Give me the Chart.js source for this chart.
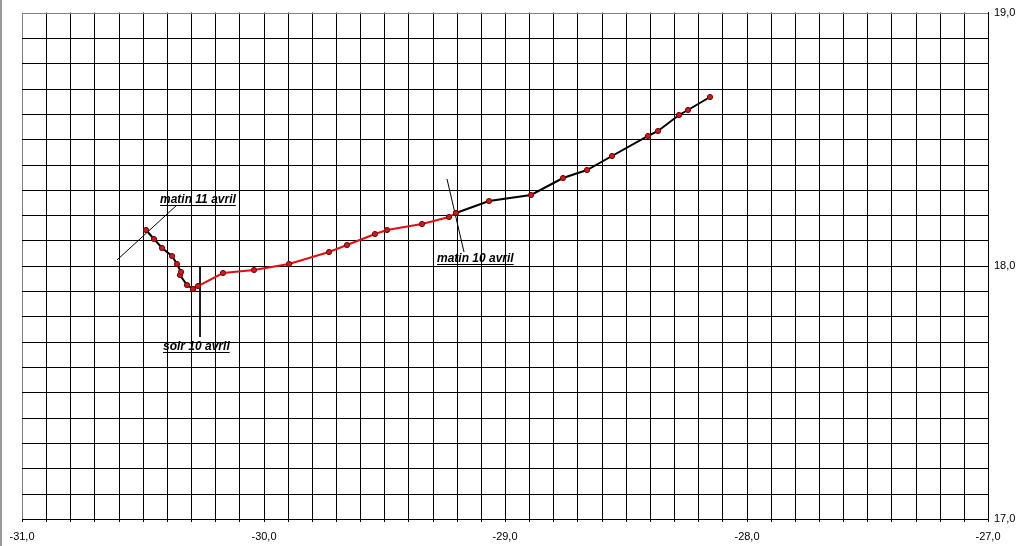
<!DOCTYPE html>
<html>
<head>
<meta charset="utf-8">
<script src="https://cdn.jsdelivr.net/npm/chart.js@4"></script>
<style>
  body { margin: 0; background: #fff; }
  #wrap { position: relative; width: 1024px; height: 546px; }
  #edge { position: absolute; left: 0; top: 0; width: 2px; height: 546px; background: #9a9a9a; }
</style>
</head>
<body>
<div id="wrap">
  <canvas id="chart" width="1024" height="546"></canvas>
  <div id="edge"></div>
</div>
<script>
// trajet, segment du matin 10 avril (noir, à droite)
const blackRightX = [-28.151, -28.243, -28.278, -28.368, -28.407, -28.559, -28.662, -28.761, -28.892, -29.068, -29.203];
const blackRightY = [18.666, 18.617, 18.595, 18.532, 18.512, 18.432, 18.377, 18.347, 18.280, 18.254, 18.208];

// segment rouge (journée du 10 avril)
const redX = [-29.203, -29.232, -29.345, -29.490, -29.540, -29.655, -29.729, -29.893, -30.039, -30.169, -30.271, -30.290];
const redY = [18.208, 18.193, 18.166, 18.140, 18.124, 18.082, 18.053, 18.007, 17.982, 17.972, 17.919, 17.907];

// segment noir de la nuit (vers matin 11 avril)
const blackLeftX = [-30.290, -30.317, -30.346, -30.342, -30.358, -30.379, -30.422, -30.453, -30.487];
const blackLeftY = [17.907, 17.925, 17.963, 17.976, 18.006, 18.039, 18.071, 18.106, 18.140];

// traits de repère des annotations
const leaderMatin11X = [-30.607, -30.358];
const leaderMatin11Y = [18.022, 18.239];
const leaderSoir10X = [-30.264, -30.264];
const leaderSoir10Y = [17.998, 17.718];
const leaderMatin10X = [-29.240, -29.170];
const leaderMatin10Y = [18.341, 18.053];

// annotations
const noteTexts = ['matin 11 avril', 'soir 10 avril', 'matin 10 avril'];
const noteX = [-30.429, -30.416, -29.282];
const noteY = [18.258, 17.678, 18.026];

const xMin = -31, xMax = -27, yMin = 17, yMax = 19;

function pts(xs, ys) {
    return xs.map((x, i) => ({ x: x, y: ys[i] }));
}

function fmt(v) {
    if (Math.abs(v - Math.round(v)) > 1e-6) return '';
    return v.toFixed(1).replace('.', ',');
}

const pointStyle = {
    pointRadius: 2.6,
    pointBackgroundColor: '#d01a1a',
    pointBorderColor: '#7a0000',
    pointBorderWidth: 1
};

const leaderStyle = {
    showLine: true,
    borderColor: '#000',
    borderWidth: 1,
    pointRadius: 0
};

// textes soulignés
const notesPlugin = {
    id: 'notes',
    afterDatasetsDraw(chart) {
        const ctx = chart.ctx;
        const xs = chart.scales.x, ys = chart.scales.y;
        ctx.save();
        ctx.font = 'italic bold 12px "Liberation Sans", Arial, sans-serif';
        ctx.fillStyle = '#000';
        ctx.strokeStyle = '#000';
        ctx.lineWidth = 1;
        ctx.textBaseline = 'middle';
        noteTexts.forEach((t, i) => {
            const px = Math.round(xs.getPixelForValue(noteX[i]));
            const py = Math.round(ys.getPixelForValue(noteY[i]));
            ctx.fillText(t, px, py);
            const w = ctx.measureText(t).width;
            ctx.beginPath();
            ctx.moveTo(px, py + 5.5);
            ctx.lineTo(px + w, py + 5.5);
            ctx.stroke();
        });
        ctx.restore();
    }
};

new Chart(document.getElementById('chart'), {
    type: 'scatter',
    data: {
        datasets: [
            Object.assign({ data: pts(blackRightX, blackRightY), showLine: true, borderColor: '#000', borderWidth: 2 }, pointStyle),
            Object.assign({ data: pts(redX, redY), showLine: true, borderColor: '#e01010', borderWidth: 2 }, pointStyle),
            Object.assign({ data: pts(blackLeftX, blackLeftY), showLine: true, borderColor: '#000', borderWidth: 2 }, pointStyle),
            Object.assign({ data: pts(leaderMatin11X, leaderMatin11Y) }, leaderStyle),
            Object.assign({ data: pts(leaderSoir10X, leaderSoir10Y) }, leaderStyle),
            Object.assign({ data: pts(leaderMatin10X, leaderMatin10Y) }, leaderStyle)
        ]
    },
    options: {
        responsive: false,
        animation: false,
        layout: { padding: { left: 22, top: 12, right: 0, bottom: 0 } },
        plugins: { legend: { display: false }, tooltip: { enabled: false } },
        scales: {
            x: {
                type: 'linear',
                position: 'bottom',
                min: xMin,
                max: xMax,
                alignToPixels: true,
                afterFit(scale) { scale.height = 27; },
                grid: {
                    color: c => (c.tick && Math.abs(c.tick.value - xMin) < 1e-6) ? '#808080' : '#000',
                    tickColor: '#000',
                    lineWidth: 1,
                    tickLength: 3
                },
                border: { color: '#000', width: 1 },
                ticks: {
                    stepSize: 0.1,
                    autoSkip: false,
                    maxRotation: 0,
                    padding: 8,
                    color: '#000',
                    font: { family: '"Liberation Sans", Arial, sans-serif', size: 11 },
                    callback: v => fmt(v)
                }
            },
            y: {
                type: 'linear',
                position: 'right',
                min: yMin,
                max: yMax,
                alignToPixels: true,
                afterFit(scale) { scale.width = 36; },
                grid: {
                    color: c => (c.tick && Math.abs(c.tick.value - yMax) < 1e-6) ? '#808080' : '#000',
                    lineWidth: 1,
                    drawTicks: false
                },
                border: { color: '#000', width: 1 },
                ticks: {
                    stepSize: 0.1,
                    autoSkip: false,
                    padding: 6,
                    color: '#000',
                    font: { family: '"Liberation Sans", Arial, sans-serif', size: 11 },
                    callback: v => fmt(v)
                }
            }
        }
    },
    plugins: [notesPlugin]
});
</script>
</body>
</html>
